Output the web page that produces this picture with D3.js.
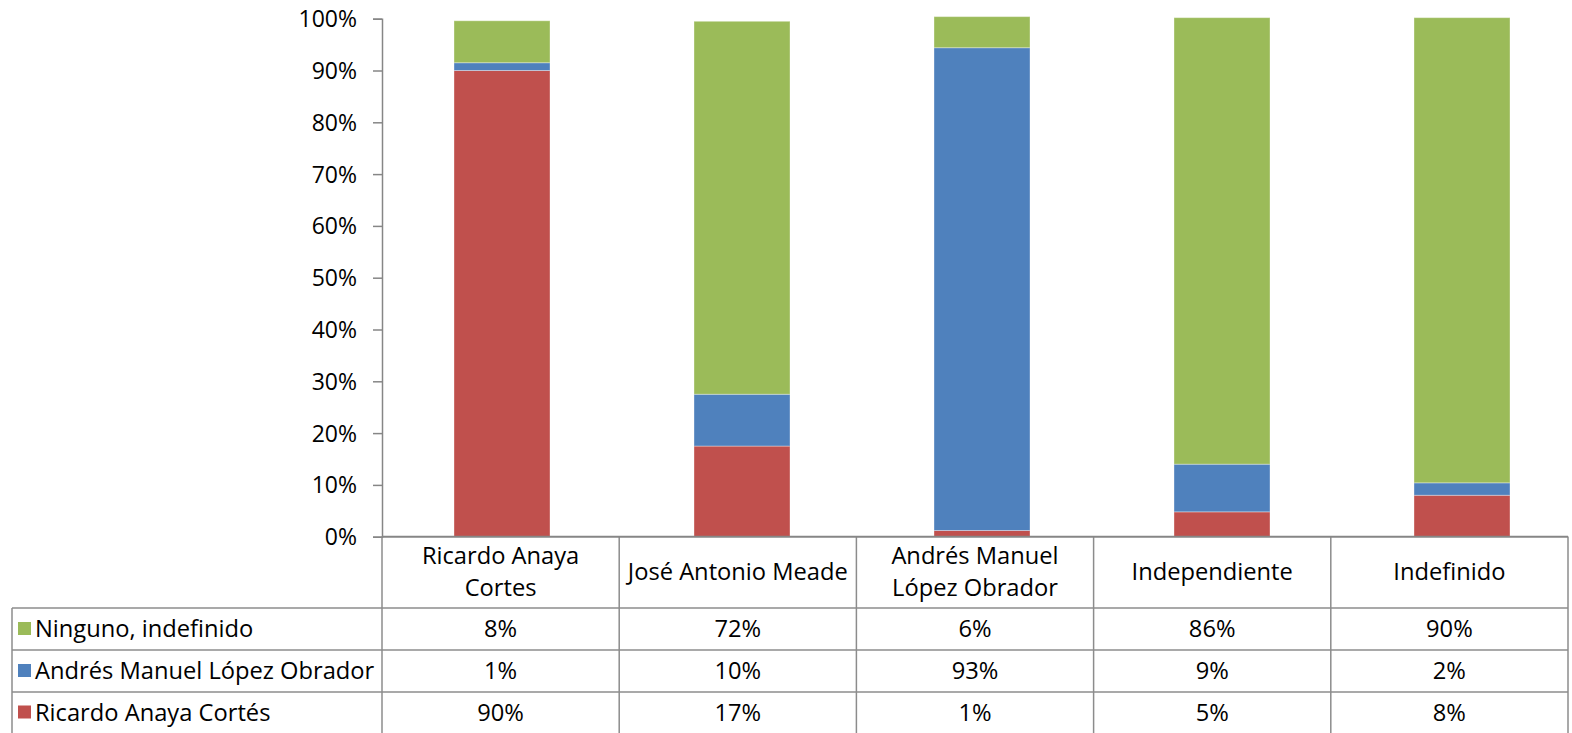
<!DOCTYPE html>
<html><head><meta charset="utf-8">
<script src="https://cdn.jsdelivr.net/npm/d3@7"></script>
<style>body{margin:0;background:#fff}svg{display:block}text{font-family:"Open Sans","Noto Sans",sans-serif;fill:#000}</style>
</head><body><svg id="c" width="1572" height="733"></svg>
<script>
const categories = [["Ricardo Anaya","Cortes"],["José Antonio Meade"],["Andrés Manuel","López Obrador"],["Independiente"],["Indefinido"]];
const seriesNames = ["Ricardo Anaya Cortés","Andrés Manuel López Obrador","Ninguno, indefinido"];
const seriesColors = ["#C0504D","#4F81BD","#9BBB59"];
const anayaVals = [90.0, 17.5, 1.2, 4.8, 8.0];
const amloVals = [1.5, 10.0, 93.2, 9.2, 2.4];
const ningunoVals = [8.1, 72.0, 6.0, 86.2, 89.8];
const tableAnaya = ["90%","17%","1%","5%","8%"];
const tableAmlo = ["1%","10%","93%","9%","2%"];
const tableNinguno = ["8%","72%","6%","86%","90%"];
const yTicks = [0,10,20,30,40,50,60,70,80,90,100];

const svg = d3.select("#c");
const x0 = 382, x1 = 1568, yTop = 18.7, yBot = 536.7;
const FS = "23.7px";
const x = d3.scaleBand().domain(d3.range(5)).range([x0, x0 + 1200]).paddingInner(0.6).paddingOuter(0.3);
const y = d3.scaleLinear().domain([0,100]).range([yBot, yTop]);

const rows = d3.range(5).map(i => ({i, a: anayaVals[i], b: amloVals[i], c: ningunoVals[i]}));
const stack = d3.stack().keys(["a","b","c"])(rows);
svg.append("g").selectAll("g").data(stack).join("g")
  .attr("fill", (d,k) => seriesColors[k])
  .selectAll("rect").data(d => d).join("rect")
  .attr("x", d => x(d.data.i)).attr("width", x.bandwidth())
  .attr("y", d => y(d[1])).attr("height", d => y(d[0]) - y(d[1]))
  .attr("stroke", "rgba(255,255,255,0.35)").attr("stroke-width", 1);

// y axis
const ax = svg.append("g").attr("transform", `translate(${x0},0)`)
  .call(d3.axisLeft(y).tickValues(yTicks).tickFormat(d => d + "%").tickSize(9).tickPadding(6));
ax.select(".domain").attr("stroke", "#868686").attr("stroke-width", 1.5);
ax.selectAll(".tick line").attr("stroke", "#868686").attr("stroke-width", 1.5);
ax.selectAll(".tick text").style("font-size", "23px").attr("dy", "0.35em").attr("x", -25);

// table
const gridC = "#8c8c8c";
const colEdges = d3.range(6).map(i => x0 + i * (x1 - x0) / 5);
const rowY = [536.7, 608, 650, 692, 733];
const tg = svg.append("g").attr("stroke", gridC).attr("stroke-width", 1.5);
colEdges.forEach(cx => tg.append("line").attr("x1", cx).attr("x2", cx).attr("y1", 536.5).attr("y2", 733));
tg.append("line").attr("x1", 12).attr("x2", 12).attr("y1", 608).attr("y2", 733);
[608, 650, 692].forEach(ry => tg.append("line").attr("x1", 12).attr("x2", x1).attr("y1", ry).attr("y2", ry));
svg.append("line").attr("x1", x0).attr("x2", x1).attr("y1", 536.7).attr("y2", 536.7).attr("stroke", "#868686").attr("stroke-width", 2);

// header
categories.forEach((lines, i) => {
  const cx = (colEdges[i] + colEdges[i+1]) / 2;
  const t = svg.append("text").attr("text-anchor", "middle").style("font-size", FS);
  const start = lines.length === 1 ? 572 : 556;
  lines.forEach((l, j) => t.append("tspan").attr("x", cx).attr("y", start + j * 32).attr("dy", "0.35em").text(l));
});

const tableRows = [[seriesNames[2], seriesColors[2], tableNinguno],[seriesNames[1], seriesColors[1], tableAmlo],[seriesNames[0], seriesColors[0], tableAnaya]];
tableRows.forEach((r, k) => {
  const cy = (rowY[k+1] + rowY[k+2]) / 2;
  svg.append("rect").attr("x", 18).attr("y", cy - 7).attr("width", 13).attr("height", 13).attr("fill", r[1]);
  svg.append("text").attr("x", 35).attr("y", cy).attr("dy", "0.35em").style("font-size", FS).text(r[0]);
  r[2].forEach((v, i) => {
    svg.append("text").attr("x", (colEdges[i] + colEdges[i+1]) / 2).attr("y", cy).attr("dy", "0.35em")
      .attr("text-anchor", "middle").style("font-size", FS).text(v);
  });
});
</script></body></html>
